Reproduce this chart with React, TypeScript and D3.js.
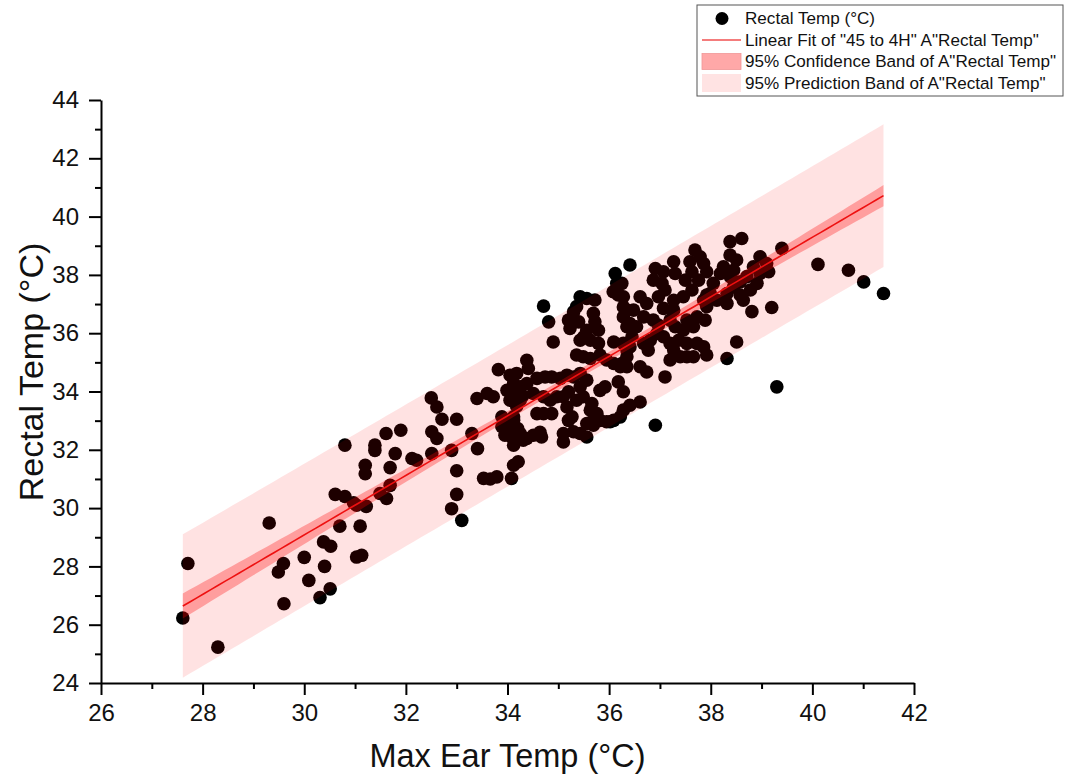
import React, { useEffect, useRef } from 'react';
import * as d3 from 'd3';

// ---------- data ----------
const maxEarTemp: number[] = [
  27.61, 27.71, 28.30, 29.31, 29.49, 29.59, 29.60, 30.00, 30.09, 30.31,
  30.51, 30.40, 30.38, 30.52, 30.70, 31.10, 31.03, 31.13, 30.61, 30.80,
  30.97, 31.03, 31.22, 31.20, 31.20, 31.69, 31.49, 31.62, 31.69, 30.80,
  31.39, 31.39, 31.61, 31.90, 31.79, 32.12, 32.21, 32.50, 32.61, 32.71,
  32.51, 32.61, 32.51, 33.00, 32.90, 33.00, 33.00, 32.90, 33.10, 33.30,
  33.41, 33.40, 33.60, 33.72, 33.82, 33.53, 33.79, 33.66, 34.08, 33.89,
  34.12, 34.05, 34.20, 34.12, 34.12, 34.21, 34.38, 34.51,
  34.05, 34.18, 34.38, 34.41, 34.12, 34.25, 34.38, 34.12, 33.99, 34.51,
  34.05, 34.25, 34.58, 34.30, 33.89, 33.95, 34.08, 34.67, 34.18, 34.12,
  34.25, 34.31, 34.64,
  34.58, 34.74, 34.87, 35.04, 35.17, 35.30, 34.71, 34.84, 34.97, 35.10,
  35.20, 35.43, 35.56, 35.43, 35.36, 35.49, 35.66, 35.82, 35.92, 36.18,
  36.28, 34.71, 34.87, 35.17, 35.27, 35.20, 35.63, 35.76, 35.82, 35.66,
  35.95, 36.09, 36.22, 35.10, 35.30, 35.43, 35.10, 35.56, 35.56, 35.69,
  36.02, 36.41, 36.61, 36.91, 36.28,
  36.41, 36.12, 36.15, 36.18, 36.08, 36.28, 35.43, 35.56, 35.72, 35.36,
  35.30, 34.71, 34.81, 35.20, 35.23, 35.40, 35.50, 35.56, 35.69, 35.72,
  35.79, 35.63, 35.43, 34.90, 35.79, 36.09, 36.28, 36.35, 36.28, 36.35,
  35.36, 35.49, 35.63, 35.82, 35.95, 36.09, 36.22, 36.35,
  36.25, 36.28, 36.91, 37.07, 36.87, 37.04, 37.27, 37.30, 37.69, 37.79,
  37.59, 37.86, 37.92, 37.63, 37.76, 37.50, 37.63, 38.38, 38.61, 38.38,
  38.51, 38.45, 38.25, 38.19, 38.84, 38.71, 38.58, 38.78, 38.58, 38.32,
  38.45, 38.05, 37.99, 37.86, 38.12, 38.32, 38.81, 36.61, 36.74, 36.68,
  36.48, 36.41, 36.54, 36.45, 36.97, 37.10, 37.27, 37.07, 37.27, 37.46,
  36.87, 36.97, 36.94, 37.20, 37.30, 37.53, 37.73, 37.89, 37.46, 37.37,
  37.53, 37.20, 37.07, 37.66, 37.73, 37.86, 37.92, 37.66, 37.53, 37.27,
  37.40, 37.20, 38.51, 38.32, 36.81, 36.68, 36.77, 36.35, 36.41, 36.25,
  36.35, 36.61, 36.74, 37.10,
  39.40, 40.11, 40.71, 41.01, 41.40, 39.20, 39.30,
  38.97, 39.10, 39.14, 38.97, 38.91, 38.64, 37.92, 37.92, 38.39,
];

const rectalTemp: number[] = [
  26.23, 28.10, 25.23, 29.49, 27.81, 28.10, 26.72, 28.31, 27.52, 26.93,
  27.23, 28.00, 28.84, 28.69, 29.38, 29.38, 28.32, 28.38, 30.47, 30.40,
  30.18, 30.10, 30.06, 31.47, 31.18, 31.39, 30.50, 30.33, 30.78, 32.16,
  32.16, 31.98, 32.56, 32.67, 31.87, 31.70, 31.64, 33.78, 33.47, 33.05,
  32.62, 32.39, 31.87, 33.05, 31.98, 31.28, 30.47, 29.98, 29.58, 32.56,
  32.04, 33.76, 33.93, 33.82, 34.75, 31.02, 31.07, 31.00, 31.02, 33.13,
  33.13, 32.84, 32.73, 32.16, 31.47, 31.59, 32.39, 32.50,
  34.56, 34.62, 35.07, 34.79, 34.27, 34.16, 34.27, 33.93, 34.04, 33.93,
  33.70, 33.70, 33.24, 33.85, 32.79, 32.50, 32.44, 32.44, 33.50, 33.01,
  32.56, 32.33, 32.60,
  34.45, 34.50, 34.50, 34.45, 34.56, 34.50, 33.82, 33.70, 33.82, 33.82,
  33.99, 34.62, 34.39, 34.16, 33.70, 33.82, 33.59, 34.04, 34.16, 34.33,
  33.99, 33.24, 33.24, 33.47, 33.13, 33.01, 33.36, 33.24, 33.01, 32.96,
  32.96, 33.01, 33.13, 32.56, 32.62, 32.56, 32.27, 32.44, 32.90, 32.84,
  32.96, 33.53, 33.64, 32.84, 33.36,
  38.34, 38.05, 37.71, 37.31, 37.42, 36.90, 37.25, 37.19, 37.14, 36.91,
  36.73, 36.93, 36.39, 36.45, 36.16, 36.39, 35.88, 36.10, 36.68, 36.39,
  36.10, 35.76, 35.76, 35.70, 35.65, 35.70, 35.65, 36.22, 36.56, 35.42,
  35.25, 35.19, 35.13, 35.25, 35.08, 34.96, 34.85, 34.85,
  37.71, 37.25, 38.22, 38.11, 37.82, 37.71, 38.45, 38.05, 38.85, 38.62,
  38.45, 38.39, 38.11, 38.11, 37.82, 37.82, 37.48, 39.14, 39.25, 38.68,
  38.51, 38.16, 38.28, 38.05, 38.28, 37.94, 37.76, 37.48, 37.31, 37.36,
  37.59, 37.71, 37.36, 37.13, 37.13, 37.02, 36.74, 37.25, 37.02, 36.56,
  36.79, 36.33, 36.22, 35.88, 37.25, 37.48, 37.13, 36.85, 36.79, 37.25,
  36.45, 36.28, 35.99, 36.45, 36.22, 36.45, 36.56, 36.45, 36.10, 35.76,
  35.65, 35.65, 35.88, 36.22, 35.65, 35.53, 35.25, 35.19, 35.19, 35.42,
  35.19, 35.08, 35.70, 35.13, 35.76, 35.65, 35.42, 36.79, 35.53, 34.96,
  35.19, 34.85, 34.67, 34.50,
  38.91, 38.36, 38.16, 37.76, 37.36, 36.88, 34.16,
  38.62, 38.39, 38.11, 38.05, 37.71, 37.13, 37.31, 36.91, 37.93,
];

// linear fit statistics
const fitIntercept = -1.55;
const fitSlope = 1.021;
const residualSE = 1.23;
const tCritical = 1.969;
const nObs = 280;
const meanEar = 35.2;
const sxxEar = 2063;

const xTickValues = [26, 28, 30, 32, 34, 36, 38, 40, 42];
const yTickValues = [24, 26, 28, 30, 32, 34, 36, 38, 40, 42, 44];
const xMinorValues = [27, 29, 31, 33, 35, 37, 39, 41];
const yMinorValues = [25, 27, 29, 31, 33, 35, 37, 39, 41, 43];

const legendLabels = [
  'Rectal Temp (°C)',
  'Linear Fit of "45 to 4H" A"Rectal Temp"',
  '95% Confidence Band of A"Rectal Temp"',
  '95% Prediction Band of A"Rectal Temp"',
];

const W = 1073;
const H = 775;
const PLOT = { left: 101, right: 914, top: 100, bottom: 683 };
const FONT = '"Liberation Sans", Arial, Helvetica, sans-serif';

export default function App() {
  const xAxisRef = useRef<SVGGElement>(null);
  const yAxisRef = useRef<SVGGElement>(null);
  const xMinorRef = useRef<SVGGElement>(null);
  const yMinorRef = useRef<SVGGElement>(null);

  const x = d3.scaleLinear().domain([26, 42]).range([PLOT.left, PLOT.right]);
  const y = d3.scaleLinear().domain([24, 44]).range([PLOT.bottom, PLOT.top]);

  const points = maxEarTemp.map((v, i) => ({ ear: v, rect: rectalTemp[i] }));
  const [xMin, xMax] = d3.extent(maxEarTemp) as [number, number];
  const grid = d3.range(0, 101).map((i) => xMin + ((xMax - xMin) * i) / 100);

  const fit = (e: number) => fitIntercept + fitSlope * e;
  const lev = (e: number) => 1 / nObs + ((e - meanEar) * (e - meanEar)) / sxxEar;
  const confHalf = (e: number) => tCritical * residualSE * Math.sqrt(lev(e));
  const predHalf = (e: number) => tCritical * residualSE * Math.sqrt(1 + lev(e));

  const predArea = d3
    .area<number>()
    .x((e) => x(e))
    .y0((e) => y(fit(e) - predHalf(e)))
    .y1((e) => y(fit(e) + predHalf(e)));
  const confArea = d3
    .area<number>()
    .x((e) => x(e))
    .y0((e) => y(fit(e) - confHalf(e)))
    .y1((e) => y(fit(e) + confHalf(e)));
  const fitLine = d3
    .line<number>()
    .x((e) => x(e))
    .y((e) => y(fit(e)));

  useEffect(() => {
    const style = (g: d3.Selection<SVGGElement, unknown, null, undefined>) => {
      g.select('.domain').attr('stroke', '#000').attr('stroke-width', 2);
      g.selectAll('.tick line').attr('stroke', '#000').attr('stroke-width', 2);
      g.selectAll('.tick text')
        .attr('fill', '#111')
        .style('font-family', FONT)
        .style('font-size', '24px');
    };
    if (xAxisRef.current) {
      const g = d3.select(xAxisRef.current);
      g.call(
        d3
          .axisBottom(x)
          .tickValues(xTickValues)
          .tickSize(12)
          .tickSizeOuter(0)
          .tickPadding(9)
          .tickFormat(d3.format('d'))
      );
      style(g);
    }
    if (yAxisRef.current) {
      const g = d3.select(yAxisRef.current);
      g.call(
        d3
          .axisLeft(y)
          .tickValues(yTickValues)
          .tickSize(12)
          .tickSizeOuter(0)
          .tickPadding(10)
          .tickFormat(d3.format('d'))
      );
      style(g);
    }
    if (xMinorRef.current) {
      const g = d3.select(xMinorRef.current);
      g.call(d3.axisBottom(x).tickValues(xMinorValues).tickSize(6).tickFormat(() => ''));
      g.select('.domain').remove();
      g.selectAll('.tick line').attr('stroke', '#000').attr('stroke-width', 2);
    }
    if (yMinorRef.current) {
      const g = d3.select(yMinorRef.current);
      g.call(d3.axisLeft(y).tickValues(yMinorValues).tickSize(6).tickFormat(() => ''));
      g.select('.domain').remove();
      g.selectAll('.tick line').attr('stroke', '#000').attr('stroke-width', 2);
    }
  });

  const legX = 697;
  const legRows = [18.5, 40, 61.5, 83];

  return (
    <svg
      width={W}
      height={H}
      style={{ position: 'absolute', left: 0, top: 0, background: '#fff' }}
      fontFamily={FONT}
    >
      <rect x={0} y={0} width={W} height={H} fill="#fff" />

      {/* points */}
      <g>
        {points.map((p, i) => (
          <circle key={i} cx={x(p.ear)} cy={y(p.rect)} r={6.8} fill="#000" />
        ))}
      </g>

      {/* bands drawn translucent over the points */}
      <path d={predArea(grid) || ''} fill="rgb(255,0,0)" fillOpacity={0.115} />
      <path d={confArea(grid) || ''} fill="rgb(255,0,0)" fillOpacity={0.3} />
      <path d={fitLine(grid) || ''} fill="none" stroke="#ee1010" strokeWidth={1.6} />

      {/* axes */}
      <g ref={xMinorRef} transform={`translate(0,${PLOT.bottom})`} />
      <g ref={yMinorRef} transform={`translate(${PLOT.left},0)`} />
      <g ref={xAxisRef} transform={`translate(0,${PLOT.bottom})`} />
      <g ref={yAxisRef} transform={`translate(${PLOT.left},0)`} />

      {/* axis titles */}
      <text
        x={(PLOT.left + PLOT.right) / 2}
        y={767}
        textAnchor="middle"
        fontSize={32.5}
        fill="#111"
      >
        Max Ear Temp (°C)
      </text>
      <text
        transform={`translate(43,372) rotate(-90)`}
        textAnchor="middle"
        fontSize={34}
        fill="#111"
      >
        Rectal Temp (°C)
      </text>

      {/* legend */}
      <g>
        <rect x={legX} y={5} width={366} height={91} fill="#fff" stroke="#555" strokeWidth={1} />
        <circle cx={legX + 25} cy={legRows[0]} r={6.5} fill="#000" />
        <line
          x1={legX + 5}
          x2={legX + 44}
          y1={legRows[1]}
          y2={legRows[1]}
          stroke="#f05050"
          strokeWidth={1.6}
        />
        <rect
          x={legX + 5}
          y={legRows[2] - 8}
          width={39}
          height={16}
          fill="rgb(255,0,0)"
          fillOpacity={0.34}
          stroke="rgb(240,150,150)"
          strokeWidth={0.8}
        />
        <rect
          x={legX + 5}
          y={legRows[3] - 9}
          width={39}
          height={18}
          fill="rgb(255,0,0)"
          fillOpacity={0.11}
        />
        {legendLabels.map((t, i) => (
          <text
            key={i}
            x={legX + 48}
            y={legRows[i]}
            dy="0.35em"
            fontSize={17.1}
            fill="#111"
          >
            {t}
          </text>
        ))}
      </g>
    </svg>
  );
}
